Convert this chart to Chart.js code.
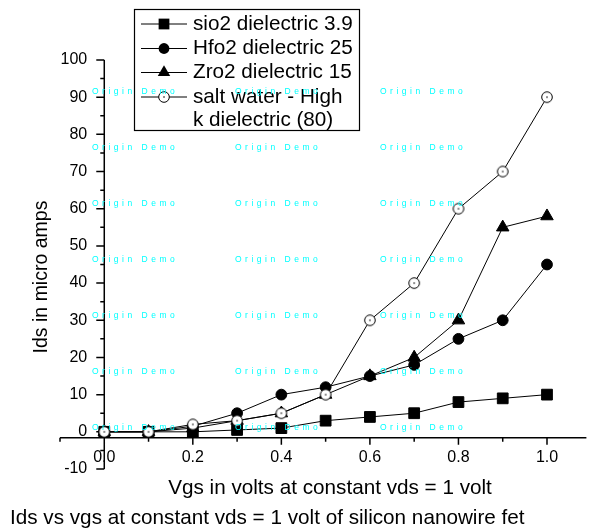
<!DOCTYPE html>
<html>
<head>
<meta charset="utf-8">
<script src="https://cdn.jsdelivr.net/npm/chart.js@4"></script>
<style>
  html, body { margin: 0; padding: 0; background: #fff; }
  #wrap { position: relative; width: 595px; height: 531px; }
</style>
</head>
<body>
<div id="wrap"><canvas id="chart" width="595" height="531"></canvas></div>
<script>
// Values (Ids in micro amps against Vgs in volts)
const vgs = [0, 0.1, 0.2, 0.3, 0.4, 0.5, 0.6, 0.7, 0.8, 0.9, 1.0];
const sio2 = [0, 0, 0, 0.5, 1, 3, 4, 5, 8, 9, 10];
const hfo2 = [0, 0, 1.5, 5, 10, 12, 15, 18, 25, 30, 45];
const zro2 = [0, 0, 1, 3, 5, 10, 15, 20, 30, 55, 58];
const saltWater = [0, 0, 2, 3, 5, 10, 30, 40, 60, 70, 90];

const seriesNames = [
    ['sio2 dielectric 3.9'],
    ['Hfo2 dielectric 25'],
    ['Zro2 dielectric 15'],
    ['salt water - High', 'k dielectric (80)']
];
const yTicks = [-10, 0, 10, 20, 30, 40, 50, 60, 70, 80, 90, 100];
const xTicks = [0.0, 0.2, 0.4, 0.6, 0.8, 1.0];

const xTitle = 'Vgs in volts at constant vds = 1 volt';
const yTitle = 'Ids in micro amps';
const caption = 'Ids vs vgs at constant vds = 1 volt of silicon nanowire fet';
const watermark = 'Origin Demo';

const FONT = "'Liberation Sans', Arial, sans-serif";
// Origin draws the bottom axis a bit under zero
const X_AXIS_AT = -1.6;

// open circle with the little dot in the middle, like Origin does it
function openCircle(r) {
    const c = document.createElement('canvas');
    const s = Math.ceil(r * 2 + 3);
    c.width = s;
    c.height = s;
    const g = c.getContext('2d');
    g.beginPath();
    g.arc(s / 2, s / 2, r, 0, Math.PI * 2);
    g.fillStyle = '#fff';
    g.fill();
    g.lineWidth = 1;
    g.strokeStyle = '#000';
    g.stroke();
    g.beginPath();
    g.arc(s / 2, s / 2, 0.8, 0, Math.PI * 2);
    g.fillStyle = '#000';
    g.fill();
    return c;
}
const openDot = openCircle(5.3);

const markers = [
    { pointStyle: 'rect', radius: 7.6 },
    { pointStyle: 'circle', radius: 5.4 },
    { pointStyle: 'triangle', radius: 7.2 },
    { pointStyle: openDot, radius: 5.3 }
];

function toPoints(values) {
    return values.map((v, i) => ({ x: vgs[i], y: v }));
}

// draws one legend marker the same way chart.js shapes them
function drawMarker(ctx, style, x, y, r) {
    ctx.save();
    ctx.fillStyle = '#000';
    ctx.strokeStyle = '#000';
    ctx.lineWidth = 1;
    if (style === 'rect') {
        const s = Math.SQRT1_2 * r;
        ctx.fillRect(x - s, y - s, 2 * s, 2 * s);
    } else if (style === 'circle') {
        ctx.beginPath();
        ctx.arc(x, y, r, 0, Math.PI * 2);
        ctx.fill();
    } else if (style === 'triangle') {
        ctx.beginPath();
        let a = 0;
        for (let k = 0; k < 3; k++) {
            const px = x + Math.sin(a) * r;
            const py = y - Math.cos(a) * r;
            if (k === 0) ctx.moveTo(px, py); else ctx.lineTo(px, py);
            a += Math.PI * 2 / 3;
        }
        ctx.closePath();
        ctx.fill();
    } else {
        ctx.drawImage(style, x - style.width / 2, y - style.height / 2);
    }
    ctx.restore();
}

const originAxes = {
    id: 'originAxes',
    beforeDatasetsDraw(chart) {
        const ctx = chart.ctx;
        const xs = chart.scales.x;
        const ys = chart.scales.y;
        const ax = xs.getPixelForValue(0);
        const ay = ys.getPixelForValue(X_AXIS_AT);
        ctx.save();
        ctx.strokeStyle = '#000';
        ctx.lineWidth = 1.5;

        // left axis, crossing at x = 0
        ctx.beginPath();
        ctx.moveTo(ax, ys.getPixelForValue(100));
        ctx.lineTo(ax, ys.getPixelForValue(-10));
        for (let v = -10; v <= 100; v += 5) {
            const py = ys.getPixelForValue(v);
            ctx.moveTo(ax, py);
            ctx.lineTo(ax - (v % 10 === 0 ? 8 : 4), py);
        }
        // bottom axis
        ctx.moveTo(xs.left, ay);
        ctx.lineTo(xs.right, ay);
        for (let i = -1; i <= 10; i++) {
            const px = xs.getPixelForValue(i / 10);
            ctx.moveTo(px, ay);
            ctx.lineTo(px, ay + (i % 2 === 0 ? 7 : 4));
        }
        ctx.stroke();

        ctx.fillStyle = '#000';
        ctx.font = '16px ' + FONT;
        ctx.textBaseline = 'middle';
        ctx.textAlign = 'right';
        yTicks.forEach(v => ctx.fillText(String(v), ax - 17, ys.getPixelForValue(v)));
        ctx.textAlign = 'center';
        xTicks.forEach(v => ctx.fillText(v.toFixed(1), xs.getPixelForValue(v), ay + 20));

        // titles
        ctx.font = '20.7px ' + FONT;
        ctx.fillText(xTitle, 330, 488);
        ctx.textAlign = 'left';
        ctx.fillText(caption, 10, 518);
        ctx.save();
        ctx.font = '19.5px ' + FONT;
        ctx.translate(42, 277);
        ctx.rotate(-Math.PI / 2);
        ctx.textAlign = 'center';
        ctx.fillText(yTitle, 0, 0);
        ctx.restore();
        ctx.restore();
    },
    afterDatasetsDraw(chart) {
        // Origin style legend box: line + marker + line, text on the right
        const ctx = chart.ctx;
        const rows = [24, 48.5, 72.5, 97];
        ctx.save();
        ctx.fillStyle = '#fff';
        ctx.fillRect(134.5, 9.5, 225, 121);
        ctx.strokeStyle = '#000';
        ctx.lineWidth = 1.2;
        ctx.strokeRect(134.5, 9.5, 225, 121);
        ctx.font = '20.7px ' + FONT;
        ctx.textBaseline = 'middle';
        ctx.textAlign = 'left';
        ctx.lineWidth = 1;
        seriesNames.forEach((lines, i) => {
            const y = rows[i];
            ctx.beginPath();
            ctx.moveTo(141, y);
            ctx.lineTo(187, y);
            ctx.strokeStyle = '#000';
            ctx.stroke();
            drawMarker(ctx, markers[i].pointStyle, 164, y, markers[i].radius);
            ctx.fillStyle = '#000';
            lines.forEach((t, k) => ctx.fillText(t, 193, y + k * 23));
        });
        ctx.restore();
    },
    afterDraw(chart) {
        // the demo watermark sits on top of everything
        const ctx = chart.ctx;
        ctx.save();
        ctx.fillStyle = '#00ffff';
        ctx.font = '8.5px ' + FONT;
        ctx.textBaseline = 'middle';
        ctx.textAlign = 'left';
        const useSpacing = 'letterSpacing' in ctx;
        if (useSpacing) ctx.letterSpacing = '3.5px';
        [92, 148, 204, 260, 316, 372, 428].forEach(y => {
            [92, 235, 380].forEach(x => {
                if (useSpacing) {
                    ctx.fillText(watermark, x, y);
                } else {
                    let cx = x;
                    for (const ch of watermark) {
                        ctx.fillText(ch, cx, y);
                        cx += ctx.measureText(ch).width + 3.5;
                    }
                }
            });
        });
        ctx.restore();
    }
};

const allSeries = [sio2, hfo2, zro2, saltWater];

new Chart(document.getElementById('chart'), {
    type: 'scatter',
    data: {
        datasets: allSeries.map((vals, i) => ({
            label: seriesNames[i].join(' '),
            data: toPoints(vals),
            showLine: true,
            borderColor: '#000',
            borderWidth: 1,
            backgroundColor: '#000',
            pointStyle: markers[i].pointStyle,
            pointRadius: markers[i].radius,
            pointBorderWidth: 1,
            pointBorderColor: '#000',
            pointBackgroundColor: '#000',
            tension: 0,
            // later series sit on top, like Origin
            order: allSeries.length - i
        }))
    },
    options: {
        responsive: false,
        animation: false,
        layout: { padding: { left: 60, right: 0, top: 60, bottom: 62 } },
        plugins: {
            legend: { display: false },
            tooltip: { enabled: false }
        },
        scales: {
            x: { type: 'linear', min: -0.1, max: 1.089, display: false },
            y: { type: 'linear', min: -10, max: 100, display: false }
        }
    },
    plugins: [originAxes]
});
</script>
</body>
</html>
